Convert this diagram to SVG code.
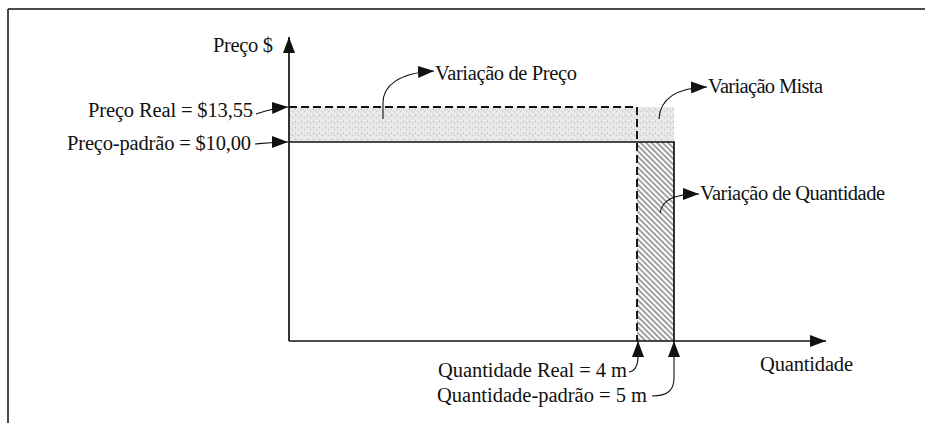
<svg xmlns="http://www.w3.org/2000/svg" width="925" height="423" viewBox="0 0 925 423">
<style>
.t{font-family:"Liberation Serif","Times New Roman",serif;font-size:20.5px;fill:#111}
.ax{stroke:#111;stroke-width:1.7;fill:none}
.ld{stroke:#111;stroke-width:1.1;fill:none}
.dash{stroke:#111;stroke-width:1.9;stroke-dasharray:8 4;fill:none}
</style>
<defs>
<marker id="ah" markerUnits="userSpaceOnUse" markerWidth="16" markerHeight="12" refX="16" refY="6" orient="auto">
<path d="M0,0 L16,6 L0,12 z" fill="#111"/>
</marker>
<pattern id="hatch" patternUnits="userSpaceOnUse" width="3.9" height="10" patternTransform="rotate(-45)">
<line x1="1" y1="-1" x2="1" y2="11" stroke="#222" stroke-width="0.85"/>
</pattern>
<pattern id="stip" patternUnits="userSpaceOnUse" width="6" height="6">
<rect width="6" height="6" fill="#e6e6e6"/>
<rect x="1" y="1" width="1" height="1" fill="#b0b0b0"/>
<rect x="4" y="3" width="1" height="1" fill="#c0c0c0"/>
<rect x="2" y="4" width="1" height="1" fill="#f8f8f8"/>
<rect x="5" y="0" width="1" height="1" fill="#f8f8f8"/>
</pattern>
</defs>
<rect width="925" height="423" fill="#fff"/>
<g id="frame">
<path d="M8,9 H925 M8,9 V423" stroke="#111" stroke-width="1.5" fill="none"/>
</g>
<g id="price-variance-area">
<rect x="289" y="107" width="385" height="35" fill="url(#stip)"/>
</g>
<g id="quantity-variance-area">
<rect x="637" y="142" width="37" height="199" fill="#fff"/>
<rect x="637" y="142" width="37" height="199" fill="url(#hatch)"/>
</g>
<g id="actual-lines">
<path class="dash" d="M289,107 H637 V341"/>
</g>
<g id="standard-lines">
<path d="M289,142 H674 V341" stroke="#111" stroke-width="1.7" fill="none"/>
</g>
<g id="axes">
<path class="ax" d="M289,341 V37" marker-end="url(#ah)"/>
<path class="ax" d="M289,341 H826" marker-end="url(#ah)"/>
</g>
<g id="labels">
<text class="t" x="273" y="52" text-anchor="end" textLength="60" lengthAdjust="spacing">Preço $</text>
<text class="t" x="253" y="117" text-anchor="end" textLength="165" lengthAdjust="spacing">Preço Real = $13,55</text>
<text class="t" x="251" y="150" text-anchor="end" textLength="184" lengthAdjust="spacing">Preço-padrão = $10,00</text>
<text class="t" x="435" y="80" textLength="142" lengthAdjust="spacing">Variação de Preço</text>
<text class="t" x="708" y="93" textLength="115" lengthAdjust="spacing">Variação Mista</text>
<text class="t" x="700" y="200" textLength="185" lengthAdjust="spacing">Variação de Quantidade</text>
<text class="t" x="760" y="371" textLength="93" lengthAdjust="spacing">Quantidade</text>
<text class="t" x="438" y="377" textLength="189" lengthAdjust="spacing">Quantidade Real = 4 m</text>
<text class="t" x="437" y="402" textLength="210" lengthAdjust="spacing">Quantidade-padrão = 5 m</text>
</g>
<g id="connectors">
<path class="ld" d="M256,114 C265,111 272,108 288,107" marker-end="url(#ah)"/>
<path class="ld" d="M255,144 C265,143 272,142 288,142" marker-end="url(#ah)"/>
<path class="ld" d="M383,119 L383,103 C383,86 398,73 434,71" marker-end="url(#ah)"/>
<path class="ld" d="M659,119 C660,100 675,88 707,87" marker-end="url(#ah)"/>
<path class="ld" d="M660,213 C662,201 672,194 699,194" marker-end="url(#ah)"/>
<path class="ld" d="M629,372 C635,371 638,366 638,356 L638,341" marker-end="url(#ah)"/>
<path class="ld" d="M652,396 C668,396 674,390 674,378 L674,341" marker-end="url(#ah)"/>
</g>
</svg>
